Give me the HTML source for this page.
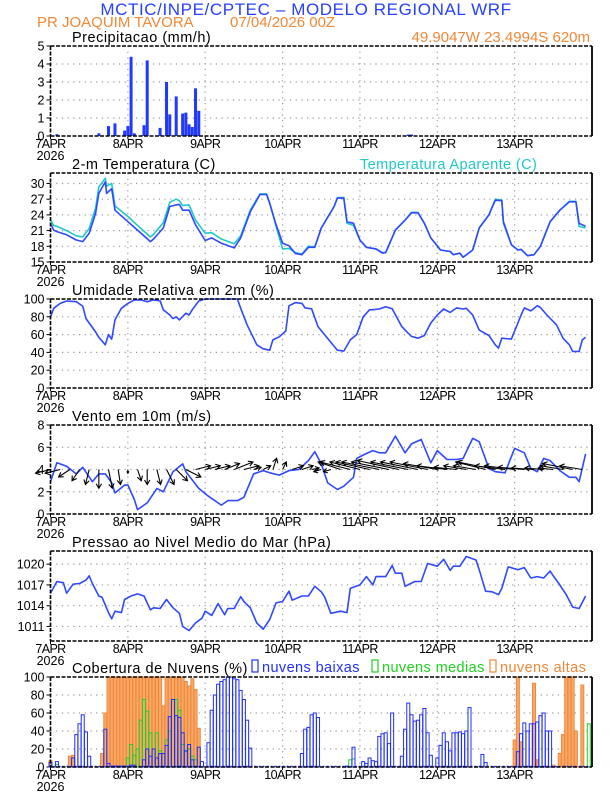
<!DOCTYPE html>
<html><head><meta charset="utf-8"><style>
html,body{margin:0;padding:0;background:#fff;}
svg{display:block;font-family:"Liberation Sans",sans-serif;}
</style></head><body>
<svg id="chart" width="612" height="792" viewBox="0 0 612 792" xmlns="http://www.w3.org/2000/svg">
<text x="306" y="15" text-anchor="middle" font-size="17" letter-spacing="0.6" fill="#2840ff">MCTIC/INPE/CPTEC – MODELO REGIONAL WRF</text>
<text x="37" y="27" font-size="15" fill="#f08838">PR JOAQUIM TAVORA</text>
<text x="230" y="27" font-size="15" fill="#f08838">07/04/2026 00Z</text>
<text x="590" y="42" text-anchor="end" font-size="15" fill="#f08838">49.9047W 23.4994S 620m</text>
<g id="g"></g>
</svg>
<script>
// ---- data ----
const dayLabels = ["7APR","8APR","9APR","10APR","11APR","12APR","13APR"];
const precipHours = [2,15,18,20,23,24,25,26,29,30,34,36,37,39,41,42,43,44,45,46,111,112];
const precipValues = [0.1,0.15,0.55,0.7,0.3,0.55,4.4,0.15,0.6,4.2,0.45,3.0,1.2,2.2,1.25,1.3,0.65,0.5,2.65,1.4,0.08,0.08];
const precipTicks = [0,1,2,3,4,5];
const tempHours = [0,1,2,5,8,10,12,14,15,17,17.4,19,20,24,27,31,32,35,37,39,40,41,43,45,48,50,53,57,59,62,65,67,68,70,72,74,76,78,80,82,84,88,89,91,92,94,96,98,101,103,104,107,110,112,114,116,118,121,124,125,127,128,131,133,136,138,140,140.5,143,145,146,148,150,152,155,158,161,163,164,166];
const tempValues = [22.4,21.1,20.8,20.2,19.2,18.9,20.5,24.3,28.1,30.3,28.1,29,24.9,22.7,21.1,18.9,19.4,21.5,25.6,25.9,26.0,24.9,24.9,22.1,19.1,19.6,18.6,17.7,19.6,24.6,27.9,27.9,26.2,22.1,18.6,18.1,16.6,16.4,17.8,17.8,21.5,25.6,27.2,27.2,22.7,22.4,19.2,17.8,17.5,16.7,16.8,21.1,23,24.4,24.4,22.4,19.6,17.3,17,16.4,16.7,15.9,17.3,21.5,24,26.8,26.7,22.7,18.3,17.3,17.4,16.2,16.4,18,22.7,24.9,26.5,26.5,22.4,21.8];
const apparentValues = [23.0,22.0,21.8,21.0,20.0,19.8,21.4,25.3,29.3,31.0,29.5,30.0,25.7,23.7,22.0,19.8,20.3,22.5,26.4,27.0,26.7,25.8,25.9,23.0,20.5,20.6,19.4,18.5,20.0,24.9,28.0,28.0,26.3,21.8,17.5,17.6,16.8,16.5,18.0,17.9,21.5,25.6,27.3,27.3,22.4,22.0,19.2,17.8,17.5,16.8,16.8,21.1,23,24.5,24.5,22.4,19.6,17.3,17,16.4,16.7,15.9,17.3,21.5,24,27.0,26.8,22.4,18.3,17.3,17.4,16.2,16.4,18,22.7,24.9,26.6,26.6,21.8,21.5];
const tempTicks = [15,18,21,24,27,30];
const rhHours = [0,1,3,5,8,10,11,14,15,17,18,19,20,22,24,26,28,30,32,34,35,37,38,39,40,42,43,44,46,48,52,58,59,61,64,66,68,69,71,73,74,76,78,79,81,83,85,88,89,91,93,95,97,99,100,102,104,106,109,111,112,114,116,118,120,122,124,126,128,129,131,133,136,138,139,140,143,146,147,149,151,152,154,157,159,161,162,164,165,166];
const rhValues = [80,89.6,95,97.8,97,92,78,63,57,48.5,60,55,76.5,89.5,95,99,99,97,99,98,88,82,78,80,76.5,84,82,88,97.8,100,100,100,89.6,71,48.5,44,42.5,54,57.5,64,92.5,96,95,90,89,69,60,47,42.5,41.5,54,60,80,88,88,88.8,91.4,89,69,61.5,58,56,59,73,82,88.8,85,90,88.8,89.6,82,65,59,48.5,44.8,56,55,82,90,86.6,92.5,90.5,82,71,56,48.5,41,41,54,57,61.6];
const rhTicks = [0,20,40,60,80,100];
const windHours = [0,2,5,8,10,13,15,17,19,20,23,24,26,27,30,33,35,38,41,42,46,49,53,55,58,60,63,66,68,71,74,77,80,82,84,86,89,91,94,95,97,100,102,104,107,110,112,115,118,120,123,126,128,131,133,136,138,141,144,147,149,151,153,155,158,161,163,164,166];
const windSpeed = [2.9,4.6,4.3,3.6,4.2,2.9,3.6,3.6,2.8,1.9,2.6,2.6,1.3,0.4,1.0,2.3,2.0,3.8,4.5,3.8,2.3,1.6,0.8,1.2,1.2,1.5,3.6,3.9,3.7,3.5,3.9,4.0,4.8,5.6,4.5,2.8,2.2,2.5,3.3,5.0,5.3,5.7,5.5,5.5,7.0,5.5,6.3,6.7,4.6,5.7,4.9,4.9,5.0,6.8,6.5,4.1,3.8,3.7,5.9,5.5,4.1,3.8,5.0,4.8,3.9,3.3,3.3,2.9,5.4];
const arrowHours = [0,3,6,9,12,15,18,21,24,27,30,33,36,39,42,45,48,51,54,57,60,63,66,69,72,75,78,81,84,87,90,93,96,99,102,105,108,111,114,117,120,123,126,129,132,135,138,141,144,147,150,153,156,159,162,165];
const windU = [-2,-2,-1.5,-1,-0.5,0,0.5,0.3,0,0.5,0,0.5,1,1.5,2,2,2,2,2,2.5,2,1,1,0.5,0.5,1.5,1.5,1,-1,-1,-3,-4,-4,-4.5,-5,-5,-5.5,-5,-5,-5,-4.5,-4,-3,-3,-3,-4,-5,-4,-4,-3.5,-3,-2.5,-2,-3,-4,-3];
const windV = [-0.5,-0.5,-1,-1.5,-2,-2.5,-2.5,-2,-0.5,-1.5,-2,-2,-2,-1.5,-1,0.5,0.5,0.5,0.8,1,0.5,0.3,0.5,1.5,1,0.5,0.5,0.2,-0.3,-0.3,1,1,1,1,1,1,1.2,1,1,1,0.8,0.5,0.3,0.5,0.5,1,1,0.5,0.5,0.3,0.2,0.2,0.2,0.5,0.8,0.5];
const windTicks = [0,2,4,6,8];
const presHours = [0,2,4,5,7,9,11,12,13,15,16,18,19,20,22,23,25,27,29,31,32,34,36,38,40,41,43,45,47,48,50,52,54,55,57,59,60,62,64,66,68,70,72,74,75,78,80,82,84,85,87,90,92,93,96,98,100,101,104,106,107,109,110,113,115,117,120,122,124,125,127,129,132,133,135,137,139,140,142,145,147,149,151,153,155,156,158,160,162,164,166];
const presValues = [1015.8,1017.5,1017.3,1015.8,1017.1,1017.2,1017.7,1018.3,1017.2,1015.4,1015.2,1013,1012.1,1013.2,1013,1014.9,1015.4,1015.7,1015.4,1013.4,1013.7,1013.6,1014.9,1013.7,1012.9,1011,1010.4,1011.5,1012.2,1013.2,1012.6,1014.3,1012.7,1013.6,1013.6,1015.3,1014.6,1013.7,1011.5,1010.6,1012,1014.4,1014.6,1016.1,1014.8,1015.4,1015.4,1016.8,1016,1015.3,1012.9,1013.2,1013,1016.5,1017,1018.2,1017,1018.2,1018.2,1019.8,1018.7,1018.7,1016.8,1017.5,1017.5,1020.1,1019.7,1020.7,1019.1,1019.7,1019.7,1021.1,1020.6,1019.2,1016.1,1016,1015.6,1016.5,1019.6,1019.2,1019.5,1018,1018.2,1018,1019,1018.3,1017,1015.6,1013.8,1013.6,1015.4];
const presTicks = [1011,1014,1017,1020];
const lowHours = [0,2,7,8,9,10,11,12,17,18,19,20,21,22,23,25,26,29,30,31,32,33,34,35,36,37,38,39,40,41,42,43,44,46,47,49,50,51,52,53,54,55,56,57,58,59,60,61,62,78,79,80,81,82,83,92,94,97,98,99,100,101,102,103,104,105,106,109,110,111,112,113,114,115,116,117,118,120,121,122,123,124,125,126,127,128,129,130,134,135,145,146,147,148,149,150,151,152,153,154,155];
const lowValues = [5,6,10,36,48,58,39,12,42,4,1,1,1,1,1,2,2,8,20,12,20,10,15,15,24,56,75,57,55,38,18,25,8,22,6,27,63,80,92,95,97,100,100,98,97,85,75,52,21,15,42,44,58,60,55,1,22,6,4,10,7,6,34,37,38,26,60,12,42,71,58,51,52,58,65,38,13,10,24,38,28,18,38,38,39,37,40,66,14,5,17,37,49,40,48,48,50,57,60,40,40];
const midHours = [0,2,24,25,26,27,28,29,30,31,32,33,34,35,36,37,38,39,40,41,42,43,44,45,93,94,167];
const midValues = [5,3,10,25,13,20,52,75,62,38,20,38,18,15,30,40,75,75,63,25,17,20,12,8,8,9,48];
const highHours = [0,6,7,16,17,18,19,20,21,22,23,24,25,26,27,28,29,30,31,32,33,34,35,36,37,38,39,40,41,42,43,44,45,46,144,145,146,150,151,156,158,159,160,161,162,163,165];
const highValues = [7,12,13,15,60,100,100,100,100,100,100,100,100,100,100,100,100,100,100,100,100,100,68,100,100,100,100,100,100,95,90,98,86,43,30,100,28,93,8,2,15,36,100,100,100,40,91];
const pctTicks = [0,20,40,60,80,100];

// ---- layout ----
const X0=50.5, X1=592, HMAX=168;
const xs = h => X0 + h*(X1-X0)/HMAX;
const g = document.getElementById('g');
const NS='http://www.w3.org/2000/svg';
function mk(tag, attrs, parent){const e=document.createElementNS(NS,tag);for(const k in attrs)e.setAttribute(k,attrs[k]);(parent||g).appendChild(e);return e;}
function txt(s,attrs,parent){const e=mk('text',attrs,parent);e.textContent=s;return e;}

function panel(name, top, bot, vmin, vmax, ticks, title){
  const pg = mk('g',{});
  
  
  const ys = v => bot - (v-vmin)*(bot-top)/(vmax-vmin);
  ticks.forEach(t=>{ if(t>vmin && t<vmax){ const l=mk('line',{x1:X0,x2:X1,y1:ys(t),y2:ys(t),stroke:'#999','stroke-width':1.2,'stroke-dasharray':'1.2,4.5'},pg);
    
     }});
  for(let d=1; d<7; d++){ const l=mk('line',{x1:xs(d*24),x2:xs(d*24),y1:top,y2:bot,stroke:'#999','stroke-width':1.2,'stroke-dasharray':'1.2,4.5'},pg);
    
     }
  ticks.forEach(t=>{ const y=ys(t);
    mk('line',{x1:X0-4,x2:X0,y1:y,y2:y,stroke:'#000','stroke-width':1},pg);
    const tl=txt(String(t),{x:X0-6,y:y+4.5,'text-anchor':'end','font-size':12.5,fill:'#000'},pg);
    
    
  });
  dayLabels.forEach((s,i)=>{ const x=xs(i*24);
    mk('line',{x1:x,x2:x,y1:bot,y2:bot+3,stroke:'#000','stroke-width':1},pg);
    const tl=txt(s,{x:x,y:bot+12,'text-anchor':'middle','font-size':12.5,'letter-spacing':'-0.6',fill:'#000'},pg);
    
    
  });
  const yr=txt('2026',{x:X0,y:bot+24,'text-anchor':'middle','font-size':12.5,fill:'#000'},pg);
  
  
  const tt=txt(title,{x:72,y:top-4,'font-size':14.5,fill:'#000','letter-spacing':'0.5'},pg);
  
  
  const marks = mk('g',{},pg);
  
  
  const fr = mk('g',{});
  
  
  mk('line',{x1:X0,x2:X1,y1:top,y2:top,stroke:'#000','stroke-width':1.6,'stroke-dasharray':'4,1.5'},fr);
  mk('line',{x1:X0,x2:X1,y1:bot,y2:bot,stroke:'#000','stroke-width':1.6,'stroke-dasharray':'4,1.5'},fr);
  mk('line',{x1:X0,x2:X0,y1:top,y2:bot,stroke:'#000','stroke-width':1.6,'stroke-dasharray':'4,1.5'},fr);
  mk('line',{x1:X1,x2:X1,y1:top,y2:bot,stroke:'#000','stroke-width':1.8},fr);
  return {ys, marks, fr};
}
function line(p, hours, vals, color, name){
  const d = hours.map((h,i)=>(i?'L':'M')+xs(h).toFixed(1)+','+p.ys(vals[i]).toFixed(1)).join('');
  const e = mk('path',{d:d,fill:'none',stroke:color,'stroke-width':1.6,'stroke-linejoin':'round'},p.marks);
  
  
}

// precip
const p1 = panel('precip',46,136,0,5,precipTicks,'Precipitacao (mm/h)');
precipHours.forEach((h,i)=>{
  const y=p1.ys(precipValues[i]);
  const b=mk('rect',{x:xs(h)-1.5,y:y,width:3,height:136-y,fill:'#2038ff'},p1.marks);
  
  
});

// temperature
const p2 = panel('temperature',173,262,15,32,tempTicks,'2-m Temperatura (C)');
const lg=txt('Temperatura Aparente (C)',{x:360,y:169,'font-size':14.5,'letter-spacing':'0.4',fill:'#20c8c8'});


line(p2,tempHours,apparentValues,'#20c8c8','apparent-temp-line');
line(p2,tempHours,tempValues,'#3048ff','temperature-line');

// RH
const p3 = panel('humidity',299,388,0,100,rhTicks,'Umidade Relativa em 2m (%)');
line(p3,rhHours,rhValues,'#3048ff','humidity-line');

// wind
const p4 = panel('wind',425,514,0,8,windTicks,'Vento em 10m (m/s)');
line(p4,windHours,windSpeed,'#3048ff','wind-speed-line');
const K=7.5;
arrowHours.forEach((h,i)=>{
  const x0=xs(h), y0=p4.ys(4);
  const x1=x0+windU[i]*K, y1=y0-windV[i]*K;
  const len=Math.hypot(x1-x0,y1-y0)||1;
  const ux=(x1-x0)/len, uy=(y1-y0)/len, hs=Math.min(4.5,len*0.5);
  const d='M'+x0+','+y0+'L'+x1+','+y1+'M'+(x1-ux*hs-uy*hs*0.6)+','+(y1-uy*hs+ux*hs*0.6)+'L'+x1+','+y1+'L'+(x1-ux*hs+uy*hs*0.6)+','+(y1-uy*hs-ux*hs*0.6);
  const a=mk('path',{d:d,stroke:'#000','stroke-width':1.1,fill:'none'},p4.marks);
  
  
});

// pressure
const p5 = panel('pressure',551,641,1008.9,1021.9,presTicks,'Pressao ao Nivel Medio do Mar (hPa)');
line(p5,presHours,presValues,'#3048ff','pressure-line');

// clouds
const p6 = panel('clouds',677,767,0,100,pctTicks,'Cobertura de Nuvens (%)');
function bars(hours, vals, fill, stroke, name){
  hours.forEach((h,i)=>{
    const y=p6.ys(vals[i]);
    const b=mk('rect',{x:xs(h)-1.5,y:y,width:3,height:767-y,fill:fill,stroke:stroke,'stroke-width':1},p6.marks);
    
    
  });
}
bars(highHours,highValues,'#f8a868','#f08838','high-cloud-bar');
bars(midHours,midValues,'none','#20d020','mid-cloud-bar');
bars(lowHours,lowValues,'none','#2030ff','low-cloud-bar');
mk('line',{x1:X0,x2:X1,y1:766.5,y2:766.5,stroke:'#2030ff','stroke-width':1.5,'stroke-dasharray':'2,2'},p6.marks);
const legs=[['nuvens baixas','#2030ff',252,'low'],['nuvens medias','#20d020',372,'mid'],['nuvens altas','#f08838',490,'high']];
legs.forEach(l=>{
  const r=mk('rect',{x:l[2],y:660,width:6,height:12,fill:'none',stroke:l[1],'stroke-width':1.2});
  
  
  const t=txt(l[0],{x:l[2]+10,y:672,'font-size':14.5,'letter-spacing':'0.4',fill:l[1]});
  
  
});
</script>
</body></html>
